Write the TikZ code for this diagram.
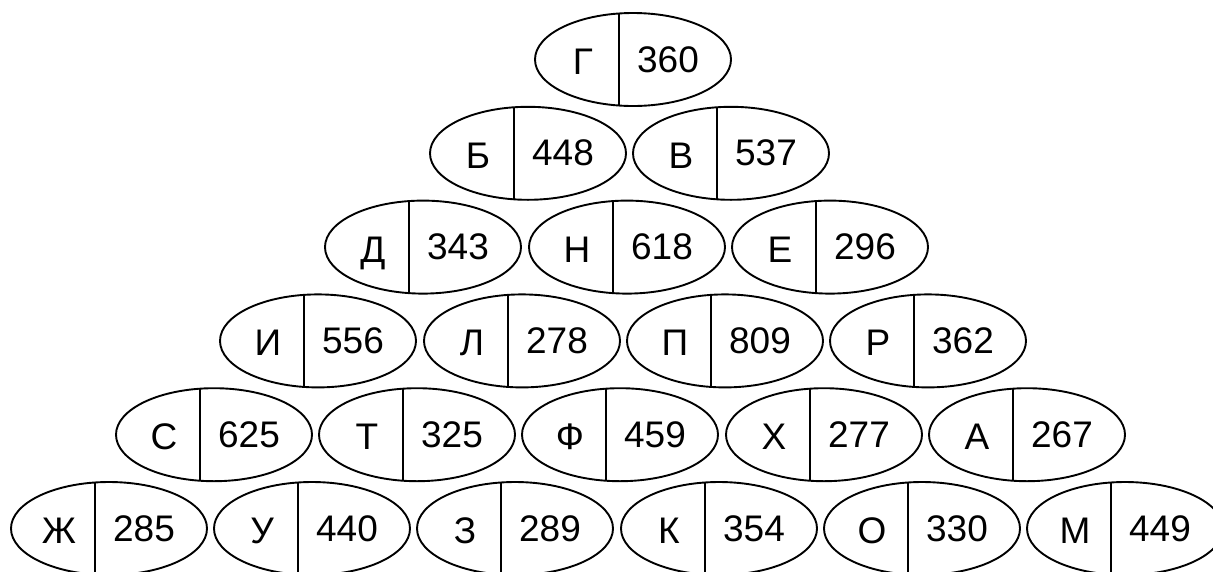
\documentclass[tikz,border=0pt]{standalone}
\usepackage{fontspec}
\setmainfont{Liberation Sans}
\usetikzlibrary{shapes.geometric,calc}
\tikzset{
  cellshape/.style={ellipse, draw, line width=1.9pt, inner sep=0pt,
    minimum width=196pt, minimum height=93pt},
  divider/.style={line width=2pt},
  lettxt/.style={anchor=base, inner sep=0pt, font=\fontsize{37}{37}\selectfont},
  numtxt/.style={anchor=base, inner sep=0pt, font=\fontsize{37}{37}\selectfont},
}
\newcommand\piecell[5]{%
  \node[cellshape] (#1) at (#2,#3) {};
  \draw[divider] ($(#1.center)+(-14,46)$) coordinate (#1t) -- ($(#1.center)+(-14,-46)$) coordinate (#1b);
  \node[lettxt] (#1l) at ($(#1.center)+(-50,15)$) {#4};
  \node[numtxt] (#1n) at ($(#1.center)+(35,12.5)$) {#5};
}
\begin{document}
\begin{tikzpicture}[x=1pt,y=-1pt]
\useasboundingbox (0,0) rectangle (1213,571);
% row k, position i: x = (633-3.2k) + (i-k/2)*203.3, y = 59.5 + 93.8k
\foreach \k/\i/\L/\N in {
  0/0/Г/360,
  1/0/Б/448, 1/1/В/537,
  2/0/Д/343, 2/1/Н/618, 2/2/Е/296,
  3/0/И/556, 3/1/Л/278, 3/2/П/809, 3/3/Р/362,
  4/0/С/625, 4/1/Т/325, 4/2/Ф/459, 4/3/Х/277, 4/4/А/267,
  5/0/Ж/285, 5/1/У/440, 5/2/З/289, 5/3/К/354, 5/4/О/330, 5/5/М/449}{
  \pgfmathsetmacro\cx{round(633-3.2*\k+(\i-\k/2)*203.3)}
  \pgfmathsetmacro\cy{59.5+93.8*\k}
  \piecell{c\k\i}{\cx}{\cy}{\L}{\N}
}
\end{tikzpicture}
\end{document}
